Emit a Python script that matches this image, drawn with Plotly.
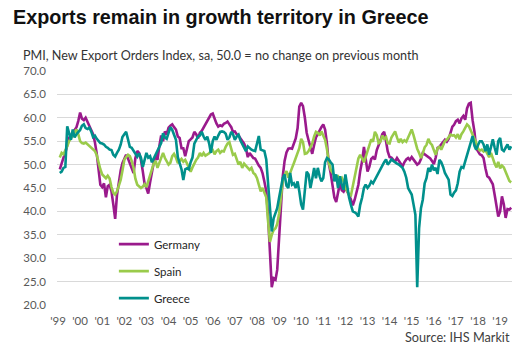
import pandas as pd
import plotly.graph_objects as go

# Monthly PMI New Export Orders Index, May 1999 - Oct 2019
start_month = "1999-05-01"

germany = [
    49, 50.5, 51.5, 52.5, 54.5, 55.7, 56.2, 56.8, 57.3, 58, 59.3, 61.1,
    59.8, 59.5, 60, 59.2, 58.5, 57.4, 56.5, 54.8, 52.3, 49, 45.7, 45.2,
    46, 43, 45.4, 45.7, 44.3, 41.5, 38.4, 43.5, 46.5, 48.8, 50.3, 51.2,
    52.1, 51.3, 50.3, 49.3, 48.2, 51.4, 52.9, 52.5, 51, 48.5, 46, 45,
    43.8, 46.2, 48.6, 50.5, 52, 51, 54, 56.2, 55, 57.1, 56.4, 57.9,
    58.3, 58.6, 58, 57.5, 56, 55.7, 53.5, 53.5, 51.8, 53.5, 55, 55.4,
    55.8, 57, 56.5, 55.6, 56.8, 57.2, 57.9, 58.6, 59.3, 60, 60.7, 60.9,
    59.6, 58.8, 58.1, 58.4, 58.2, 58.7, 58.9, 59.2, 58.6, 58, 57, 57.1,
    56.5, 56.3, 55.6, 55, 54.5, 53.5, 51.6, 52.5, 51.8, 51.4, 51.3, 50.4,
    49.8, 49.3, 48.2, 46.4, 44.3, 39, 31, 23.8, 25.7, 25.4, 27.5, 35,
    42, 47.5, 50.8, 52.6, 53.4, 53.5, 53.4, 54.3, 55.6, 57.8, 62.4, 63.2,
    62.5, 60, 56.8, 55.2, 53.5, 52.3, 54.2, 55.8, 56.5, 57.4, 58, 58.6,
    57.5, 54.5, 50.2, 48.2, 45, 43, 42, 44.2, 46, 44.5, 44.2, 45,
    44.3, 43.5, 42.5, 41.3, 42.5, 44, 45.7, 48.6, 50.7, 53.8, 51.5, 48.5,
    49.5, 51.2, 51.6, 51.1, 53.1, 54, 55.2, 56.5, 57, 55, 52.8, 51.6,
    51.5, 51, 50.7, 51.4, 50.8, 50, 49.6, 50.5, 51.1, 51.4, 51, 51.6,
    51, 50.5, 50, 50.3, 51.2, 52.5, 52.2, 51.8, 51.5, 51.3, 50.8, 50.1,
    51.5, 53.6, 53.8, 54.3, 54.8, 55.3, 54.9, 55.5, 56.8, 58.1, 58.5, 59.3,
    59.6, 58.8, 59.9, 60.4, 59.6, 62, 63, 63.2, 59.5, 57, 53.5, 52.7,
    52.2, 52, 51.4, 49.2, 47.5, 47.2, 46.6, 45.8, 43.5, 40.5, 38.9, 40,
    43.2, 41.5, 38.6, 40.5, 40.4, 40.8,
]

spain = [
    51.5, 52.5, 52.2, 53, 53.9, 55, 55.7, 56.4, 56.8, 57.5, 56.5, 55,
    54.6, 54.5, 54.7, 54.3, 54.1, 53.7, 53.3, 52.9, 52, 50.2, 49, 47.9,
    47.4, 47.1, 47.6, 47, 45.2, 44, 43.6, 44.3, 45.5, 46.8, 48.7, 51,
    51.6, 52.1, 51.8, 50.8, 49.3, 47, 45.7, 45.3, 45, 45.3, 45.8, 45.2,
    46.3, 47.9, 49, 50.2, 50.8, 49.3, 50.5, 51.7, 52.5, 51.4, 50.8, 50,
    50.4, 51.8, 52.3, 51.5, 50.3, 50.8, 51.2, 50.6, 51, 50.2, 49.3, 48.5,
    49.4, 50.4, 51, 51.5, 52.5, 51.8, 52.5, 51.9, 52.1, 52.4, 52.9, 53.1,
    52.2, 52.9, 53.2, 52.5, 52.9, 52.8, 53.8, 54.5, 54.8, 53.3, 52.1, 52.3,
    51.2, 50, 50.6, 49.3, 50.2, 49.8, 49.2, 48.9, 49.3, 48.2, 47.9, 47.1,
    45.7, 44.3, 45, 44, 43, 37.9, 33.5, 35, 36, 36.4, 37.3, 39.5,
    43.5, 46.5, 47.7, 48.6, 47.2, 48.4, 49.3, 50.3, 51.4, 52.5, 53.5, 55.5,
    54.8, 52.3, 52.4, 52.9, 53.8, 54.5, 56, 57, 56.8, 56.2, 57.1, 56.3,
    55.3, 53.3, 50.5, 48.9, 48.2, 47.7, 47.3, 47.5, 46.8, 47.2, 46.4, 45,
    44.3, 43.5, 43.4, 45.5, 47.6, 48.8, 51.3, 52.1, 51.1, 50.5, 51.6, 52.8,
    54.3, 55.4, 54.9, 57, 56.3, 54.6, 54.9, 56.2, 55.5, 55.9, 54.6, 54.5,
    55.8, 56.5, 57.1, 55.8, 54.7, 55.5, 54.8, 55.2, 54.9, 55.8, 56.5, 57.5,
    56.3, 54.5, 53.4, 52.5, 51.4, 52.4, 53.7, 54.2, 55.5, 54.6, 54.2, 53.1,
    52.1, 53.5, 53.8, 53.2, 54.2, 55, 55.3, 55.8, 56.4, 56.2, 56.3, 55.8,
    56.5, 55.4, 56.5, 57.1, 57.9, 58.6, 58.2, 57.4, 56.6, 55.6, 54.7, 53.4,
    53, 53.2, 52.8, 53.1, 52.2, 51.6, 52.5, 51.3, 50.2, 49.4, 50.6, 49.2,
    49.8, 49.4, 48.5, 47.6, 46.5, 46.2,
]

greece = [
    48.2, 48.5, 49.3, 49.5, 58.2, 56.5, 55.3, 57.5, 55.8, 56.5, 57, 57.4,
    58.3, 58.6, 57.8, 57.6, 57.9, 57.1, 55.9, 56.2, 55.5, 55.1, 54.6, 54.5,
    54.3, 53.8, 53.6, 53.2, 53.1, 52.1, 51.7, 52.5, 53.2, 54.3, 55.9, 56.5,
    57, 55.4, 53.8, 53.6, 53, 52.3, 51.7, 52.4, 51.5, 49.5, 51, 52.5,
    51.5, 51.8, 50.5, 51.4, 52.2, 53, 54, 54.6, 56.7, 55.8, 55.5, 57,
    58, 57.4, 56.3, 55.3, 51.6, 50.5, 49, 46.7, 49, 49.2, 49, 50.5,
    51.5, 54.5, 55.3, 56, 56.2, 57, 56, 55.3, 56, 54.5, 52.5, 55,
    56, 55.3, 56.2, 57, 57.1, 57, 56.6, 55.3, 55.8, 57, 56.5, 55.3,
    56, 56.4, 55.2, 54.3, 53.5, 52.9, 53.9, 53.5, 53.2, 53, 52.9, 54.5,
    56.1, 53.2, 53, 52.9, 51.1, 46.4, 41.4, 35.7, 38.5, 39.6, 40.7, 42.9,
    45, 47.1, 47.9, 45.5, 45, 48.2, 45.7, 46, 45, 46.4, 44.3, 41.5,
    40.4, 44, 48.5, 47.9, 45, 47, 49.3, 47.1, 49.3, 47.5, 46.4, 47.1,
    50.5, 51.4, 51.1, 50.5, 50, 46.4, 47.9, 45, 47.5, 45.7, 44.6, 47.9,
    45, 42.9, 41.4, 40, 39.8, 39.5, 38.9, 41.4, 42.9, 45, 45.7, 45,
    45.5, 46.4, 46, 46.8, 47.5, 48.2, 49, 49.6, 50.5, 51.1, 50, 50.5,
    51.1, 50.8, 50.4, 50.2, 50, 49.6, 49.3, 48.5, 47.2, 45, 44.2, 43.6,
    41.5, 39.3, 23.8, 36.4, 40.7, 42.5, 46, 47.1, 49.3, 48.5, 50, 48.8,
    49.3, 48, 51, 50.5, 49.5, 48.2, 47.5, 46.8, 43.6, 43.3, 44, 44.5,
    46, 48.5, 49.5, 49.3, 50.7, 52, 53.6, 55, 56.1, 54, 53.2, 54.2,
    55, 55, 54.3, 52.9, 54.3, 52.1, 53.6, 55.4, 53.6, 52.1, 55, 55.7,
    53.2, 52.9, 53.6, 54.3, 53.2, 53.9,
]

series_names = ["Germany", "Spain", "Greece"]
series_colors = ["#9A1A8C", "#9ACB4B", "#00908C"]

years = list(range(1999, 2020))
tick_labels = ["'" + str(y)[2:] for y in years]
tick_dates = [f"{y}-04-01" for y in years]

y_ticks = [20, 25, 30, 35, 40, 45, 50, 55, 60, 65, 70]

dates = pd.date_range(start_month, periods=len(germany), freq="MS")

fig = go.Figure()
for i, (name, vals, col) in enumerate(zip(series_names, [germany, spain, greece], series_colors)):
    fig.add_trace(go.Scatter(
        x=dates, y=vals, name=name, mode="lines",
        line=dict(color=col, width=2.6),
        legendgroup=f"g{i}",
    ))

tick_font = dict(family="Lato", size=11.5, color="#595959")

fig.update_layout(
    width=532, height=362,
    margin=dict(l=57, r=20, t=71, b=57),
    paper_bgcolor="white", plot_bgcolor="white",
    title=dict(
        text="<b>Exports remain in growth territory in Greece</b>",
        x=13 / 532, xanchor="left", y=1 - 17 / 362, yanchor="middle",
        font=dict(family="Liberation Sans", size=19.8, color="#111111"),
    ),
    showlegend=True,
    legend=dict(
        x=0.125, y=0.322, xanchor="left", yanchor="top",
        bgcolor="rgba(255,255,255,0)",
        font=dict(family="Lato", size=11.5, color="#262626"),
        tracegroupgap=8, itemwidth=30,
    ),
    xaxis=dict(
        type="date",
        range=["1999-03-16", "2019-10-14"],
        tickmode="array", tickvals=tick_dates, ticktext=tick_labels,
        showgrid=False, zeroline=False, showline=False, ticks="",
        tickfont=tick_font, ticklabelstandoff=7,
    ),
    yaxis=dict(
        range=[20, 70],
        tickmode="array", tickvals=y_ticks,
        ticktext=[f"{v:.1f}" for v in y_ticks],
        showgrid=True, gridcolor="#D9D9D9", gridwidth=1,
        zeroline=False, showline=False, ticks="",
        tickfont=tick_font, ticklabelstandoff=10,
    ),
    annotations=[
        dict(
            text="PMI, New Export Orders Index, sa, 50.0 = no change on previous month",
            xref="paper", yref="paper", x=(21 - 57) / 455, y=(305 - 55) / 234,
            xanchor="left", yanchor="middle", showarrow=False,
            font=dict(family="Lato", size=12.6, color="#333333"),
        ),
        dict(
            text="Source: IHS Markit",
            xref="paper", yref="paper", x=(512 - 57) / 455, y=(305 - 337) / 234,
            xanchor="right", yanchor="middle", showarrow=False,
            font=dict(family="Lato", size=12.7, color="#404040"),
        ),
    ],
)

fig.write_html(
    "out.html",
    config={"displayModeBar": False},
    post_script="document.body.style.margin='0px';",
)
